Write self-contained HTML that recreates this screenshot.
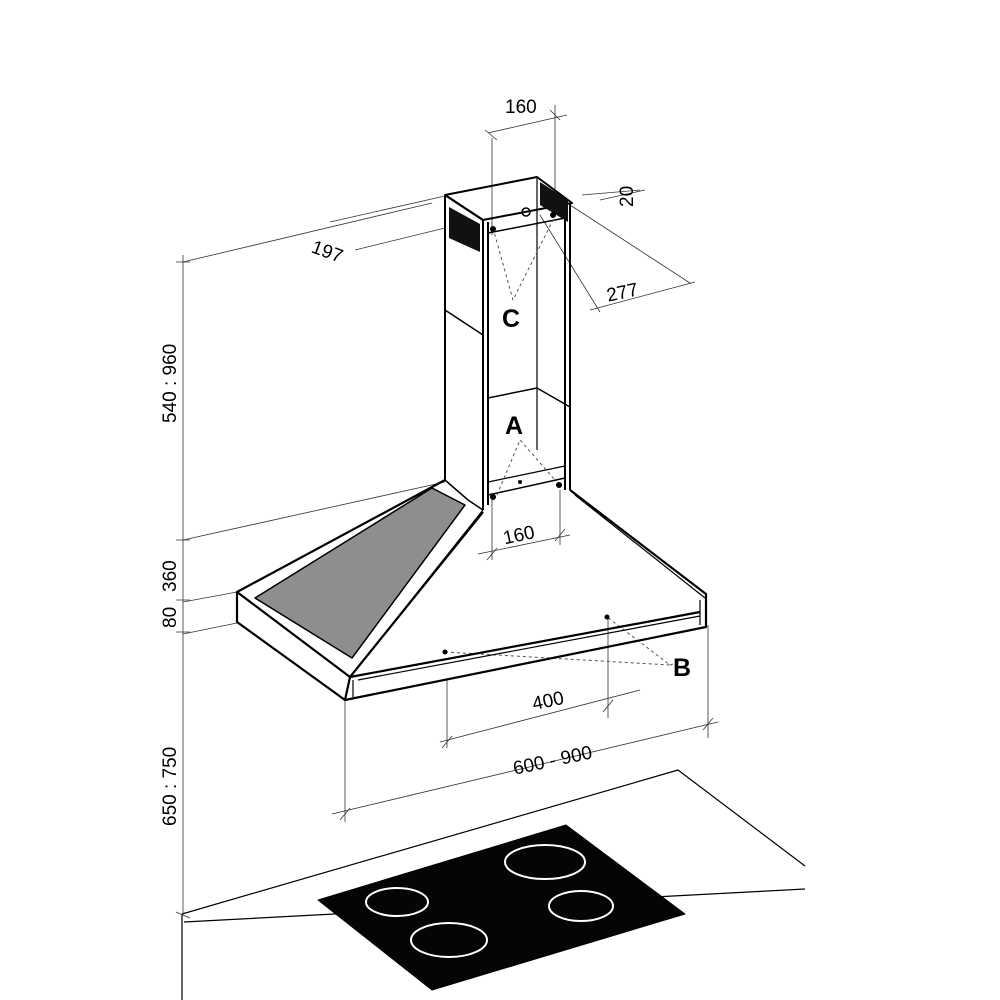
<!DOCTYPE html>
<html><head><style>body{margin:0;background:#fff}svg{display:block}</style></head><body>
<svg width="1000" height="1000" viewBox="0 0 1000 1000" xmlns="http://www.w3.org/2000/svg" font-family="Liberation Sans, sans-serif">
<g fill="none" stroke="#000" stroke-linejoin="round">
<!-- counter & cooktop -->
<path d="M182,914 L678,770 L805,866" stroke-width="1.2"/>
<path d="M184,922 L805,889" stroke-width="1.2"/>
<path d="M182,914 L182,1000" stroke-width="1.2"/>
<polygon points="318,900 566,825 685,914 432,990" fill="#050505"/>
<ellipse cx="545" cy="862" rx="40" ry="17" stroke="#fff" stroke-width="2"/>
<ellipse cx="397" cy="902" rx="31" ry="14" stroke="#fff" stroke-width="2"/>
<ellipse cx="581" cy="906" rx="32" ry="15" stroke="#fff" stroke-width="2"/>
<ellipse cx="449" cy="940" rx="38" ry="17" stroke="#fff" stroke-width="2"/>

<!-- dimension lines (thin) -->
<g stroke-width="0.8" stroke="#333">
<path d="M183,255 L183,915"/>
<path d="M176,262 L190,262 M176,540 L190,540 M176,600 L190,600 M176,632 L190,632 M176,912 L190,918"/>
<path d="M183,262 L432,203"/>
<path d="M183,540 L445,482"/>
<path d="M183,602 L237,592 M183,634 L237,623"/>
<path d="M330,222 L445,196 M355,250 L445,228"/>
<path d="M492,235 L492,138 M555,210 L555,105 M488,133 L567,115"/>
<path d="M485,130 L497,140 M550,110 L560,120"/>
<path d="M570,205 L690,283 M582,195 L640,190 M600,200 L645,190 M540,215 L600,312 M590,310 L695,282"/>
<path d="M492,500 L492,560 M560,490 L560,545 M478,554 L570,535"/>
<path d="M447,680 L447,748 M608,615 L608,718 M440,742 L640,690"/>
<path d="M345,700 L345,822 M708,625 L708,738 M332,814 L718,722"/>
<path d="M340,820 L350,808 M703,730 L713,718 M442,748 L452,736 M603,712 L613,700 M487,560 L497,548 M555,541 L565,529"/>
</g>

<!-- chimney -->
<g stroke-width="2">
<path d="M445,195 L537,177 L572,203 L483,220 Z"/>
<path d="M445,195 L445,480"/>
<path d="M483,220 L483,510"/>
<path d="M488,222 L488,505"/>
<path d="M570,204 L570,490"/>
<path d="M565,205 L565,490"/>
<path d="M537,177 L537,450" stroke-width="1.2"/>
<path d="M445,195 L483,220" />
<path d="M445,310 L483,335" stroke-width="1.5"/>
<path d="M488,398 L537,388 L570,407" stroke-width="1.5"/>
<path d="M488,233 L565,218" stroke-width="1.5"/>
<path d="M488,495 L565,478" stroke-width="1.5"/>
<path d="M488,482 L565,466" stroke-width="1.2"/>
</g>
<polygon points="449,207 480,224 480,252 449,238" fill="#111" stroke="none"/>
<polygon points="540,182 568,200 568,222 540,205" fill="#111" stroke="none"/>
<g stroke="#555" stroke-dasharray="3,3" stroke-width="1">
<path d="M493,228 L513,300 L553,220"/>
<path d="M497,495 L520,440 L555,480"/>
<path d="M445,652 L670,665 L607,617 M670,665 L685,660"/>
</g>

<!-- hood -->
<g stroke-width="2.2">
<path d="M445,480 L237,592 L350,677 L483,512"/>
<path d="M237,592 L237,622 L345,700 L706,627 L706,594 L570,490"/>
<path d="M350,677 L345,700"/>
<path d="M350,677 L700,612"/>
<path d="M358,680 L700,616" stroke-width="1.2"/>
<path d="M483,510 L350,677" stroke-width="1.2"/>
<path d="M575,495 L705,598" stroke-width="1.2"/>
<path d="M445,480 L468,500 L483,510" stroke-width="1.5"/>
<path d="M353,680 L353,697" stroke-width="1.2"/>
<path d="M700,600 L700,625" stroke-width="1.2"/>
</g>
<polygon points="255,598 432,488 465,505 352,658" fill="#8e8e8e" stroke="#000" stroke-width="1.5"/>
<g fill="#000" stroke="none">
<circle cx="445" cy="652" r="2.5"/><circle cx="607" cy="617" r="2.5"/>
<circle cx="520" cy="482" r="2"/><circle cx="526" cy="212" r="4" fill="none" stroke="#000" stroke-width="1.5"/>
<circle cx="493" cy="229" r="3"/><circle cx="553" cy="215" r="3"/><circle cx="493" cy="497" r="3"/><circle cx="559" cy="485" r="3"/>
</g>
</g>

<!-- text -->
<g fill="#000" font-size="19">
<text x="505" y="113">160</text>
<text x="503" y="541" transform="rotate(-12 520 535)">160</text>
<text x="532" y="707" transform="rotate(-12 548 700)">400</text>
<text x="512" y="766" transform="rotate(-12 555 758)">600 - 900</text>
<text x="606" y="298" transform="rotate(-12 625 290)">277</text>
<text x="312" y="258" transform="rotate(20 328 250)">197</text>
<text x="0" y="0" transform="translate(633,207) rotate(-90)">20</text>
<text x="0" y="0" transform="translate(176,423) rotate(-90)">540 : 960</text>
<text x="0" y="0" transform="translate(176,592) rotate(-90)">360</text>
<text x="0" y="0" transform="translate(176,628) rotate(-90)">80</text>
<text x="0" y="0" transform="translate(176,826) rotate(-90)">650 : 750</text>
<text x="502" y="327" font-size="25" font-weight="bold">C</text>
<text x="505" y="434" font-size="25" font-weight="bold">A</text>
<text x="673" y="676" font-size="25" font-weight="bold">B</text>
</g>
</svg>
</body></html>
